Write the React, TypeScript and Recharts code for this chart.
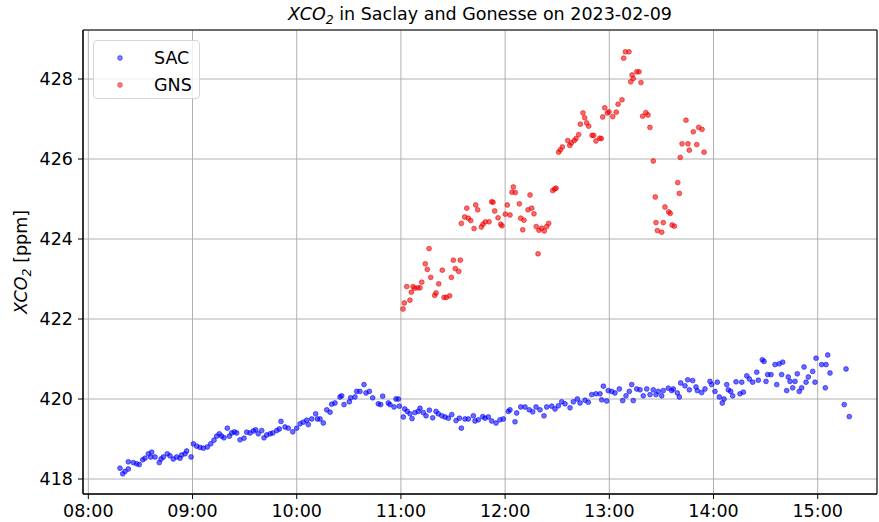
import React from 'react'
import { ScatterChart, Scatter, XAxis, YAxis, CartesianGrid, ReferenceArea, Legend } from 'recharts'

const FONT = '"DejaVu Sans", sans-serif'

// time of day in decimal hours, XCO2 in ppm
const sacTime = [
  8.304, 8.33, 8.352, 8.384, 8.384, 8.432, 8.464, 8.489, 8.522, 8.544, 8.576, 8.608, 8.599, 8.64, 8.681, 8.698, 8.72, 8.758, 8.784, 8.816, 8.848, 8.88, 8.896, 8.928, 8.944, 8.986,
  9.008, 9.04, 9.072, 9.104, 9.142, 9.175, 9.206, 9.232, 9.257, 9.28, 9.302, 9.334, 9.353, 9.376, 9.401, 9.424, 9.456, 9.494, 9.52, 9.552, 9.584, 9.606, 9.631, 9.664, 9.686, 9.712, 9.744, 9.77, 9.808, 9.833, 9.849, 9.888, 9.919, 9.962,
  10.0, 10.032, 10.063, 10.096, 10.111, 10.144, 10.182, 10.198, 10.224, 10.255, 10.288, 10.32, 10.336, 10.367, 10.415, 10.432, 10.454, 10.505, 10.518, 10.559, 10.576, 10.607, 10.646, 10.665, 10.697, 10.729, 10.783,
  10.825, 10.806, 10.879, 10.895, 10.934, 10.953, 10.975, 10.985, 11.023, 11.037, 11.061, 11.087, 11.107, 11.135, 11.167, 11.183, 11.215, 11.241, 11.273, 11.305, 11.337, 11.359, 11.392, 11.423, 11.455, 11.488, 11.529, 11.561, 11.58, 11.615, 11.647, 11.695, 11.711, 11.743, 11.785, 11.807, 11.839, 11.871, 11.913, 11.951, 11.983,
  12.031, 12.047, 12.095, 12.111, 12.15, 12.191, 12.232, 12.265, 12.297, 12.335, 12.373, 12.399, 12.447, 12.479, 12.511, 12.543, 12.575, 12.623, 12.655, 12.693, 12.719, 12.767, 12.798, 12.831, 12.872, 12.911, 12.943, 12.927, 12.975, 12.99,
  13.023, 13.054, 13.096, 13.128, 13.16, 13.192, 13.215, 13.23, 13.263, 13.295, 13.326, 13.359, 13.391, 13.422, 13.448, 13.47, 13.503, 13.518, 13.566, 13.599, 13.614, 13.653, 13.672, 13.685, 13.726, 13.752, 13.768, 13.8, 13.832, 13.845, 13.887, 13.918, 13.966, 13.983,
  14.014, 14.036, 14.056, 14.084, 14.101, 14.127, 14.142, 14.165, 14.184, 14.216, 14.254, 14.271, 14.286, 14.319, 14.344, 14.376, 14.415, 14.43, 14.468, 14.485, 14.504, 14.52, 14.552, 14.59, 14.631, 14.664, 14.607, 14.654, 14.702, 14.717, 14.734, 14.76, 14.782, 14.804, 14.823, 14.846, 14.869, 14.888, 14.91, 14.952, 14.974, 14.984,
  15.038, 15.073, 15.08, 15.096, 15.118, 15.272, 15.255, 15.303,
]
const sacXco2 = [
  418.27, 418.13, 418.19, 418.25, 418.43, 418.41, 418.38, 418.36, 418.48, 418.52, 418.63, 418.67, 418.55, 418.55, 418.41, 418.5, 418.55, 418.63, 418.58, 418.5, 418.55, 418.52, 418.6, 418.63, 418.7, 418.55,
  418.88, 418.82, 418.79, 418.77, 418.8, 418.88, 418.97, 419.07, 419.13, 419.07, 419.03, 419.27, 419.07, 419.15, 419.18, 419.15, 418.98, 419.02, 419.17, 419.15, 419.2, 419.23, 419.13, 419.21, 419.03, 419.1, 419.13, 419.15, 419.21, 419.25, 419.44, 419.3, 419.27, 419.18,
  419.27, 419.38, 419.42, 419.47, 419.36, 419.5, 419.63, 419.5, 419.5, 419.4, 419.73, 419.67, 419.87, 419.9, 420.05, 420.08, 419.86, 419.93, 420.03, 420.05, 420.19, 420.19, 420.36, 420.15, 420.19, 420.03, 419.88,
  420.07, 419.86, 419.9, 419.86, 419.8, 420.0, 420.0, 419.82, 419.55, 419.75, 419.69, 419.63, 419.51, 419.66, 419.69, 419.77, 419.66, 419.58, 419.72, 419.53, 419.69, 419.63, 419.58, 419.55, 419.52, 419.61, 419.46, 419.52, 419.27, 419.5, 419.5, 419.58, 419.45, 419.48, 419.56, 419.52, 419.55, 419.45, 419.4, 419.48, 419.5,
  419.69, 419.73, 419.43, 419.65, 419.8, 419.8, 419.73, 419.68, 419.8, 419.73, 419.58, 419.8, 419.82, 419.75, 419.83, 419.93, 419.88, 419.78, 419.93, 420.0, 419.9, 419.97, 419.92, 420.11, 420.13, 420.13, 420.32, 419.98, 419.95, 420.21,
  420.19, 420.15, 420.25, 419.96, 420.08, 420.19, 420.36, 419.96, 420.25, 420.23, 420.08, 420.25, 420.11, 420.23, 420.11, 420.19, 420.08, 420.21, 420.27, 420.21, 420.25, 420.15, 420.05, 420.4, 420.33, 420.48, 420.23, 420.46, 420.3, 420.21, 420.16, 420.25, 420.44, 420.36,
  420.19, 420.42, 420.05, 419.9, 420.0, 420.36, 420.23, 420.19, 420.08, 420.43, 420.13, 420.42, 420.17, 420.58, 420.5, 420.42, 420.67, 420.47, 420.98, 420.94, 420.44, 420.61, 420.61, 420.86, 420.88, 420.92, 420.36, 420.61, 420.21, 420.55, 420.44, 420.28, 420.44, 420.63, 420.19, 420.28, 420.8, 420.42, 420.55, 420.69, 420.42, 421.02,
  420.86, 420.28, 420.86, 421.1, 420.65, 420.75, 419.86, 419.56,
]

const gnsTime = [
  11.02, 11.033, 11.087, 11.056, 11.1, 11.116, 11.132, 11.161, 11.183, 11.2, 11.234, 11.253, 11.27, 11.286, 11.324, 11.337, 11.363, 11.397, 11.414, 11.436, 11.468, 11.484, 11.503, 11.522, 11.555, 11.57,
  11.58, 11.612, 11.632, 11.647, 11.67, 11.702, 11.718, 11.737, 11.772, 11.788, 11.81, 11.846, 11.871, 11.884, 11.9, 11.932, 11.958, 11.97, 12.002, 12.021, 12.047, 12.066, 12.079, 12.098, 12.136, 12.15, 12.169, 12.181, 12.22, 12.239, 12.255, 12.277, 12.299, 12.316, 12.325, 12.351, 12.376, 12.399, 12.418, 12.457, 12.476, 12.489,
  12.514, 12.53, 12.549, 12.601, 12.62, 12.635, 12.664, 12.68, 12.706, 12.722, 12.747, 12.764, 12.783, 12.802, 12.834, 12.85, 12.872, 12.908, 12.923, 12.937, 12.956, 12.981, 12.997, 13.033, 13.067, 13.084, 13.122, 13.138, 13.154, 13.189, 13.205, 13.23, 13.218, 13.263, 13.285, 13.304,
  13.32, 13.351, 13.371, 13.39, 13.422, 13.441, 13.448, 13.461, 13.503, 13.518, 13.534, 13.57, 13.585, 13.602, 13.624, 13.657, 13.672, 13.681, 13.698, 13.736, 13.755, 13.768, 13.806, 13.839, 13.858, 13.89, 13.909,
]
const gnsXco2 = [
  422.25, 422.4, 422.47, 422.81, 422.67, 422.81, 422.77, 422.78, 422.78, 422.92, 423.38, 423.24, 423.76, 423.04, 422.59, 422.65, 422.88, 423.22, 422.54, 422.54, 422.58, 423.04, 423.47, 423.26, 423.19, 423.47,
  424.39, 424.55, 424.77, 424.52, 424.46, 424.26, 424.85, 424.73, 424.3, 424.37, 424.43, 424.43, 424.93, 424.92, 424.7, 424.53, 424.37, 424.33, 424.62, 424.85, 424.6, 425.17, 425.3, 425.16, 424.88, 424.52, 424.23, 424.47, 424.73, 425.1, 424.77, 424.63, 424.31, 423.63, 424.22, 424.27, 424.2, 424.31, 424.39, 425.21, 425.25, 425.27,
  426.17, 426.23, 426.3, 426.46, 426.34, 426.4, 426.46, 426.51, 426.61, 426.87, 427.15, 427.03, 426.9, 426.82, 426.59, 426.59, 426.45, 426.52, 426.51, 427.05, 427.28, 427.15, 427.18, 427.06, 427.17, 427.37, 427.48, 428.52, 428.68, 428.68, 427.93, 428.01, 428.1, 428.18, 428.18, 427.91,
  427.07, 427.16, 427.1, 426.79, 425.95, 425.05, 424.41, 424.21, 424.17, 424.41, 424.8, 424.68, 424.64, 424.35, 424.32, 425.41, 425.14, 426.04, 426.38, 426.97, 426.38, 426.22, 426.68, 426.36, 426.79, 426.74, 426.17,
]

const xTicks = [8, 9, 10, 11, 12, 13, 14, 15]
const yTicks = [418, 420, 422, 424, 426, 428]
const xDomain: [number, number] = [7.949, 15.569]
const yDomain: [number, number] = [417.625, 429.225]

const sacData = sacTime.map((t, i) => ({ t, v: sacXco2[i] }))
const gnsData = gnsTime.map((t, i) => ({ t, v: gnsXco2[i] }))

const series = [
  { name: 'SAC', color: '#0000ff', data: sacData },
  { name: 'GNS', color: '#ee0000', data: gnsData },
]

const fmtHour = (h: number) => `${String(Math.floor(h)).padStart(2, '0')}:00`

const dot = (color: string) => (props: any) => (
  <circle cx={props.cx} cy={props.cy} r={2.4} fill={color} fillOpacity={0.58} stroke={color} strokeOpacity={0.55} strokeWidth={1} />
)

const LegendBox = () => (
  <div style={{
    width: 107, height: 59, boxSizing: 'border-box', border: '1px solid #d6d6d6', borderRadius: 4,
    background: 'rgba(255,255,255,0.8)', fontFamily: FONT, fontSize: 17.5, color: '#000', position: 'relative',
  }}>
    {series.map((s, i) => (
      <div key={s.name} style={{ position: 'absolute', left: 0, top: 6 + i * 26.5, height: 22, display: 'flex', alignItems: 'center' }}>
        <svg width={60} height={22}>
          <circle cx={26} cy={11} r={2.4} fill={s.color} fillOpacity={0.5} stroke={s.color} strokeOpacity={0.45} />
        </svg>
        <span style={{ lineHeight: '22px' }}>{s.name}</span>
      </div>
    ))}
  </div>
)

const tickStyle = { fontSize: 17.5, fill: '#000', fontFamily: FONT }

export default function App() {
  return (
    <div style={{ position: 'absolute', left: 0, top: 0, width: 879, height: 522, background: '#fff' }}>
      <ScatterChart width={879} height={522} margin={{ top: 30, right: 2, left: 0, bottom: 0 }}>
        <CartesianGrid stroke="#b0b0b0" strokeWidth={1} />
        <XAxis
          type="number" dataKey="t" domain={xDomain} ticks={xTicks} tickFormatter={fmtHour}
          allowDataOverflow height={28} tickSize={5} tickMargin={6}
          tick={tickStyle} axisLine={{ stroke: '#000' }} tickLine={{ stroke: '#000' }}
        />
        <YAxis
          type="number" dataKey="v" domain={yDomain} ticks={yTicks}
          allowDataOverflow width={83} tickSize={5} tickMargin={5}
          tick={tickStyle} axisLine={{ stroke: '#000' }} tickLine={{ stroke: '#000' }}
        />
        <ReferenceArea x1={xDomain[0]} x2={xDomain[1]} y1={yDomain[0]} y2={yDomain[1]} fill="none" stroke="#000" strokeWidth={1} />
        {series.map(s => (
          <Scatter key={s.name} name={s.name} data={s.data} fill={s.color} shape={dot(s.color)} isAnimationActive={false} />
        ))}
        <Legend
          layout="horizontal" verticalAlign="middle" align="center"
          content={() => <LegendBox />}
          wrapperStyle={{ left: 93, top: 40, width: 107, height: 59 }}
        />
      </ScatterChart>
      <svg width={879} height={522} style={{ position: 'absolute', left: 0, top: 0, pointerEvents: 'none' }}>
        <text x={480} y={20} textAnchor="middle" fontFamily={FONT} fontSize={17.5} fill="#000">
          <tspan fontStyle="italic">XCO</tspan>
          <tspan fontStyle="italic" fontSize={12.5} dy={4}>2</tspan>
          <tspan dy={-4}> in Saclay and Gonesse on 2023-02-09</tspan>
        </text>
        <text x={0} y={0} transform="translate(27 262) rotate(-90)" textAnchor="middle" fontFamily={FONT} fontSize={17.5} fill="#000">
          <tspan fontStyle="italic">XCO</tspan>
          <tspan fontStyle="italic" fontSize={12.5} dy={4}>2</tspan>
          <tspan dy={-4}> [ppm]</tspan>
        </text>
      </svg>
    </div>
  )
}
